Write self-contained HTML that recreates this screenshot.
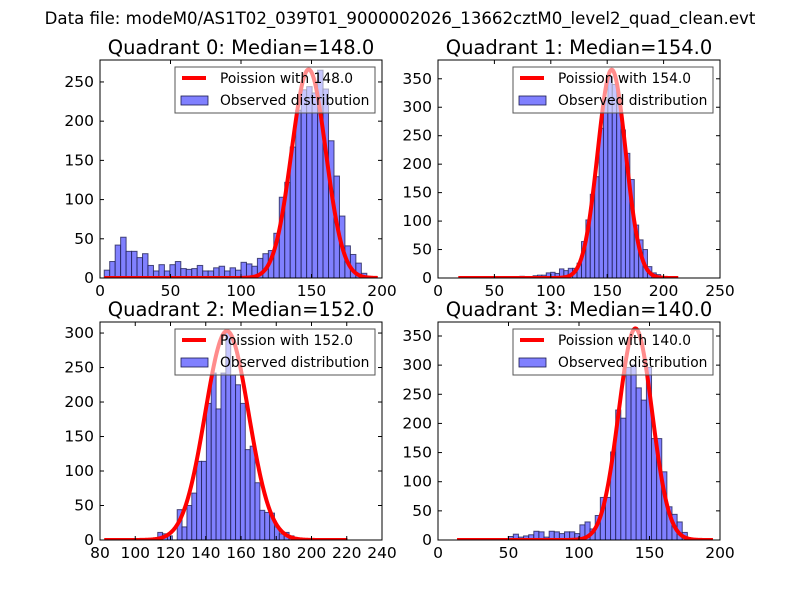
<!DOCTYPE html>
<html><head><meta charset="utf-8"><style>
body{margin:0;background:#fff;}
svg text{font-family:"DejaVu Sans","Liberation Sans",sans-serif;}
</style></head><body>
<svg id="fig" width="800" height="600" viewBox="0 0 800 600" xmlns="http://www.w3.org/2000/svg">
<rect width="800" height="600" fill="#fff"/>
<text x="400" y="24" text-anchor="middle" font-size="16.6">Data file: modeM0/AS1T02_039T01_9000002026_13662cztM0_level2_quad_clean.evt</text>
</svg>
<script>
const medians = [148.0, 154.0, 152.0, 140.0];
const curvePeaks = [266, 366, 303, 363];
const binStarts = [3, 18, 82.4, 13.5];
const binWidths = [3.88, 3.9, 2.76, 3.63];
const counts0 = [10,21,42,52,34,34,26,31,16,9,17,9,17,21,12,11,12,16,9,9,13,15,9,13,10,20,18,15,25,31,35,57,103,122,167,214,240,244,236,265,241,175,130,79,41,30,19,6,0,0];
const counts1 = [0,0,0,0,0,0,0,0,0,0,0,1,0,0,3,0,2,4,5,5,9,10,8,16,13,17,17,26,64,102,147,178,263,313,354,340,313,260,219,173,93,67,50,20,9,6,0,0,0,0];
const counts2 = [0,0,0,0,0,0,0,0,0,0,0,11,9,6,0,44,19,50,68,114,114,198,242,190,242,301,239,225,198,131,136,83,43,40,39,19,9,11,6,0,0,0,0,0,0,0,0,0,0,0];
const counts3 = [0,0,0,0,0,0,0,0,0,0,6,10,5,7,9,15,14,5,15,14,11,14,14,11,26,31,19,42,73,73,151,223,209,296,300,261,240,296,174,174,117,57,44,31,13,0,0,0,0,0];
const xTicks0 = [0,50,100,150,200];
const xTicks1 = [0,50,100,150,200,250];
const xTicks2 = [80,100,120,140,160,180,200,220,240];
const xTicks3 = [0,50,100,150,200];
const yTicks0 = [0,50,100,150,200,250];
const yTicks1 = [0,50,100,150,200,250,300,350];
const yTicks2 = [0,50,100,150,200,250,300];
const yTicks3 = [0,50,100,150,200,250,300,350];
const xDomains = [[0,200],[0,250],[80,240],[0,200]];
const yMaxes = [278, 383, 316, 374];

const allCounts=[counts0,counts1,counts2,counts3];
const allX=[xTicks0,xTicks1,xTicks2,xTicks3];
const allY=[yTicks0,yTicks1,yTicks2,yTicks3];
const boxes=[[100,60,382,278],[438,60,720,278],[100,322,382,540],[438,322,720,540]];
const NS="http://www.w3.org/2000/svg";
const fig=document.getElementById('fig');
function mk(tag,attrs,parent){const e=document.createElementNS(NS,tag);for(const k in attrs)e.setAttribute(k,attrs[k]);(parent||fig).appendChild(e);return e;}

for(let p=0;p<4;p++){
  const [L,T,R,B]=boxes[p];
  const [x0,x1]=xDomains[p];
  const sx=v=>L+(v-x0)/(x1-x0)*(R-L);
  const sy=v=>B-v/yMaxes[p]*(B-T);
  const g=mk('g',{});
  
  
  const cp=mk('clipPath',{id:'clip'+p},g);
  mk('rect',{x:L,y:T,width:R-L,height:B-T},cp);
  const bars=mk('g',{'clip-path':'url(#clip'+p+')'},g);
  
  
  const c=allCounts[p];
  for(let i=0;i<c.length;i++){
    if(c[i]<=0)continue;
    const a=binStarts[p]+i*binWidths[p], b=a+binWidths[p];
    const r=mk('rect',{x:sx(a),y:sy(c[i]),width:sx(b)-sx(a),height:sy(0)-sy(c[i]),fill:'#8080ff',stroke:'#1a1a4d','stroke-width':1,'stroke-opacity':0.75},bars);
    
    
  }
  const mu=medians[p], sd=Math.sqrt(mu);
  const xs=binStarts[p], xe=binStarts[p]+50*binWidths[p];
  let d='';
  for(let k=0;k<=300;k++){
    const v=xs+(xe-xs)*k/300;
    const yv=curvePeaks[p]*Math.exp(-0.5*((v-mu)/sd)**2);
    d+=(k?'L':'M')+sx(v).toFixed(2)+','+sy(yv).toFixed(2);
  }
  const line=mk('path',{d:d,fill:'none',stroke:'#ff0000','stroke-width':4,'stroke-linejoin':'round','clip-path':'url(#clip'+p+')'},g);
  
  
  mk('rect',{x:L,y:T,width:R-L,height:B-T,fill:'none',stroke:'#000','stroke-width':1},g);
  allX[p].forEach(t=>{
    const x=sx(t);
    mk('line',{x1:x,x2:x,y1:B,y2:B-4,stroke:'#000'},g);
    mk('line',{x1:x,x2:x,y1:T,y2:T+4,stroke:'#000'},g);
    const tx=mk('text',{x:x,y:B+18,'text-anchor':'middle','font-size':15.5},g);
    tx.textContent=t;
    
    
  });
  allY[p].forEach(t=>{
    const y=sy(t);
    mk('line',{x1:L,x2:L+4,y1:y,y2:y,stroke:'#000'},g);
    mk('line',{x1:R,x2:R-4,y1:y,y2:y,stroke:'#000'},g);
    const ty=mk('text',{x:L-6,y:y+5,'text-anchor':'end','font-size':15.5},g);
    ty.textContent=t;
    
    
  });
  const title=mk('text',{x:(L+R)/2,y:T-6,'text-anchor':'middle','font-size':19.5},g);
  title.textContent='Quadrant '+p+': Median='+medians[p].toFixed(1);
  
  
  const lg=mk('g',{},g);
  
  
  const lx=L+75, ly=T+7;
  mk('rect',{x:lx,y:ly,width:200,height:46,fill:'#fff','fill-opacity':0.55,stroke:'#555','stroke-width':1},lg);
  mk('line',{x1:lx+7,x2:lx+31,y1:ly+11,y2:ly+11,stroke:'#f00','stroke-width':4},lg);
  mk('rect',{x:lx+6,y:ly+29,width:27,height:9,fill:'#8080ff',stroke:'#1a1a4d','stroke-width':0.8},lg);
  const t1=mk('text',{x:lx+45,y:ly+16,'font-size':13.8},lg);
  t1.textContent='Poission with '+medians[p].toFixed(1);
  
  
  const t2=mk('text',{x:lx+45,y:ly+38,'font-size':13.8},lg);
  t2.textContent='Observed distribution';
  
  
}
</script>
</body></html>
